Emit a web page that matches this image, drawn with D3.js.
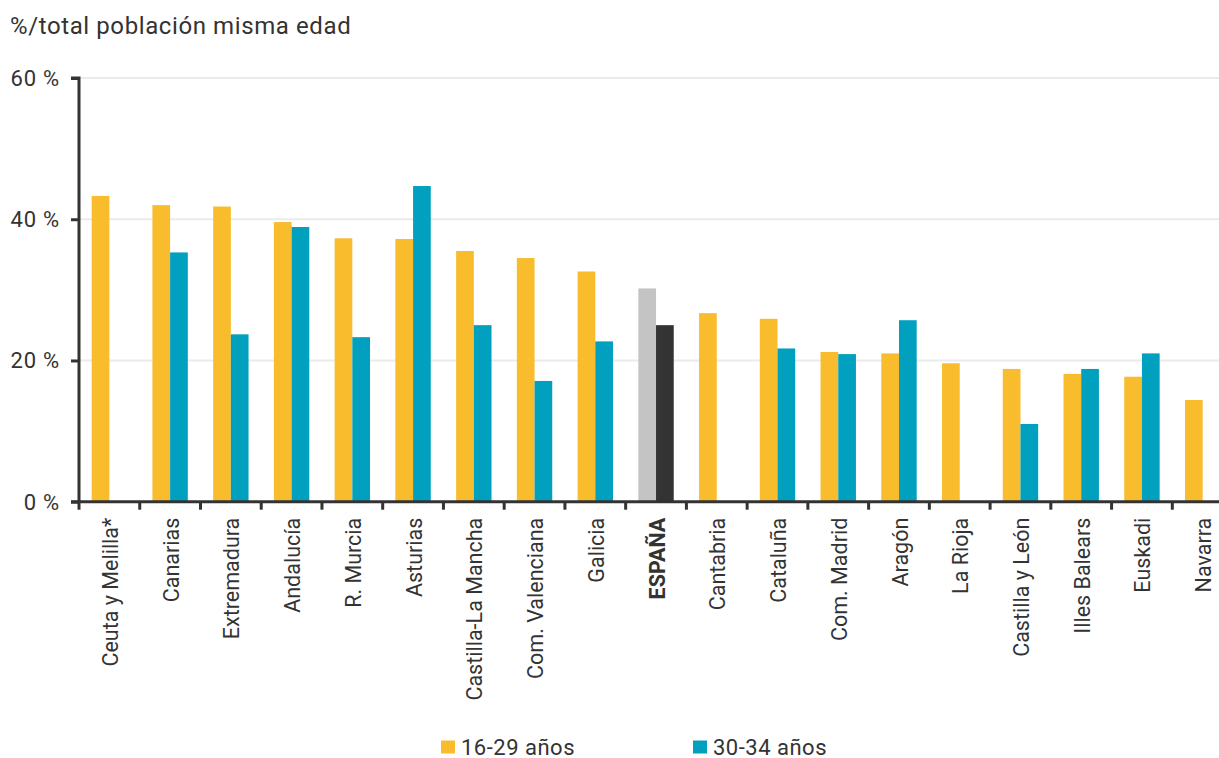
<!DOCTYPE html>
<html>
<head>
<meta charset="utf-8">
<script src="https://cdn.jsdelivr.net/npm/d3@7"></script>
<style>
  html, body { margin: 0; padding: 0; background: #fff; }
  svg { display: block; font-family: Roboto, "Noto Sans", sans-serif; }
</style>
</head>
<body>
<svg id="chart" width="1219" height="758"></svg>
<script>
const categories = ["Ceuta y Melilla*", "Canarias", "Extremadura", "Andalucía", "R. Murcia", "Asturias",
  "Castilla-La Mancha", "Com. Valenciana", "Galicia", "ESPAÑA", "Cantabria", "Cataluña",
  "Com. Madrid", "Aragón", "La Rioja", "Castilla y León", "Illes Balears", "Euskadi", "Navarra"];
const seriesNames = ["16-29 años", "30-34 años"];
const values1629 = [43.3, 42.0, 41.8, 39.6, 37.3, 37.2, 35.5, 34.5, 32.6, 30.2, 26.7, 25.9, 21.2, 21.0, 19.6, 18.8, 18.1, 17.7, 14.4];
const values3034 = [null, 35.3, 23.7, 38.9, 23.3, 44.7, 25.0, 17.1, 22.7, 25.0, null, 21.7, 20.9, 25.7, null, 11.0, 18.8, 21.0, null];
const yTicks = [0, 20, 40, 60];
const highlight = "ESPAÑA";

const colors = { "16-29 años": "#F9BC2D", "30-34 años": "#00A0BE" };
const hiColors = { "16-29 años": "#C4C4C4", "30-34 años": "#333333" };
const textColor = "#333333";

const svg = d3.select("#chart");
const plotLeft = 79, plotTop = 78, plotBottom = 501.7;
const bandW = 60.74;
const x = d3.scaleBand().domain(categories).range([plotLeft, plotLeft + bandW * categories.length]).padding(0);
const y = d3.scaleLinear().domain([0, 60]).range([plotBottom, plotTop]);
const barW = 17.7;
const x1 = d3.scaleBand().domain(seriesNames).range([bandW / 2 - barW, bandW / 2 + barW]).padding(0);

// title
svg.append("text").attr("x", 10).attr("y", 34).attr("fill", textColor)
  .style("font-size", "24px").style("letter-spacing", "0.6px").text("%/total población misma edad");

// gridlines
svg.append("g").selectAll("line").data(yTicks.filter(t => t > 0)).join("line")
  .attr("x1", plotLeft).attr("x2", 1219).attr("y1", d => y(d)).attr("y2", d => y(d))
  .attr("stroke", "#ebebeb").attr("stroke-width", 2);

// bars
const data = categories.map((c, i) => ({ c, vals: [values1629[i], values3034[i]] }));
const groups = svg.append("g").selectAll("g").data(data).join("g")
  .attr("transform", d => `translate(${x(d.c)},0)`);
groups.selectAll("rect").data(d => seriesNames.map((s, j) => ({ s, v: d.vals[j], c: d.c })).filter(e => e.v != null))
  .join("rect")
  .attr("x", e => x1(e.s)).attr("width", x1.bandwidth())
  .attr("y", e => y(e.v)).attr("height", e => y(0) - y(e.v))
  .attr("fill", e => e.c === highlight ? hiColors[e.s] : colors[e.s]);

// y axis
const yAxis = d3.axisLeft(y).tickValues(yTicks).tickSize(8).tickPadding(11).tickFormat(d => d + " %");
const gy = svg.append("g").attr("transform", `translate(${plotLeft},0)`).call(yAxis);
gy.select(".domain").attr("stroke", textColor).attr("stroke-width", 3).attr("d", `M-8,${plotTop}H0V${plotBottom}`);
gy.selectAll(".tick line").attr("stroke", textColor).attr("stroke-width", 3);
gy.selectAll(".tick text").attr("fill", textColor).style("font-size", "22px").style("letter-spacing", "0.8px")
  .style("font-family", "Roboto").attr("dy", "0.34em");

// x axis
const gx = svg.append("g").attr("transform", `translate(0,${plotBottom})`);
gx.append("line").attr("x1", plotLeft - 8).attr("x2", 1219).attr("y1", 0).attr("y2", 0)
  .attr("stroke", textColor).attr("stroke-width", 3);
gx.selectAll("line.tk").data(categories.map((c, i) => i)).join("line").attr("class", "tk")
  .attr("x1", i => x(categories[i])).attr("x2", i => x(categories[i]))
  .attr("y1", 0).attr("y2", 8).attr("stroke", textColor).attr("stroke-width", 3);
gx.selectAll("text").data(categories).join("text")
  .attr("transform", c => `translate(${x(c) + x.bandwidth() / 2 + 1},16) rotate(-90)`)
  .attr("text-anchor", "end").attr("dy", "0.35em")
  .attr("fill", textColor)
  .style("font-size", "21.5px")
  .style("font-weight", c => c === highlight ? "bold" : "normal")
  .text(c => c);

// legend
const legend = svg.append("g");
const legendX = [441, 693];
seriesNames.forEach((s, i) => {
  legend.append("rect").attr("x", legendX[i]).attr("y", 740.5).attr("width", 14).attr("height", 13).attr("fill", colors[s]);
  legend.append("text").attr("x", legendX[i] + 20).attr("y", 754.5).attr("fill", textColor)
    .style("font-size", "22px").style("letter-spacing", "0.5px").text(s);
});
</script>
</body>
</html>
